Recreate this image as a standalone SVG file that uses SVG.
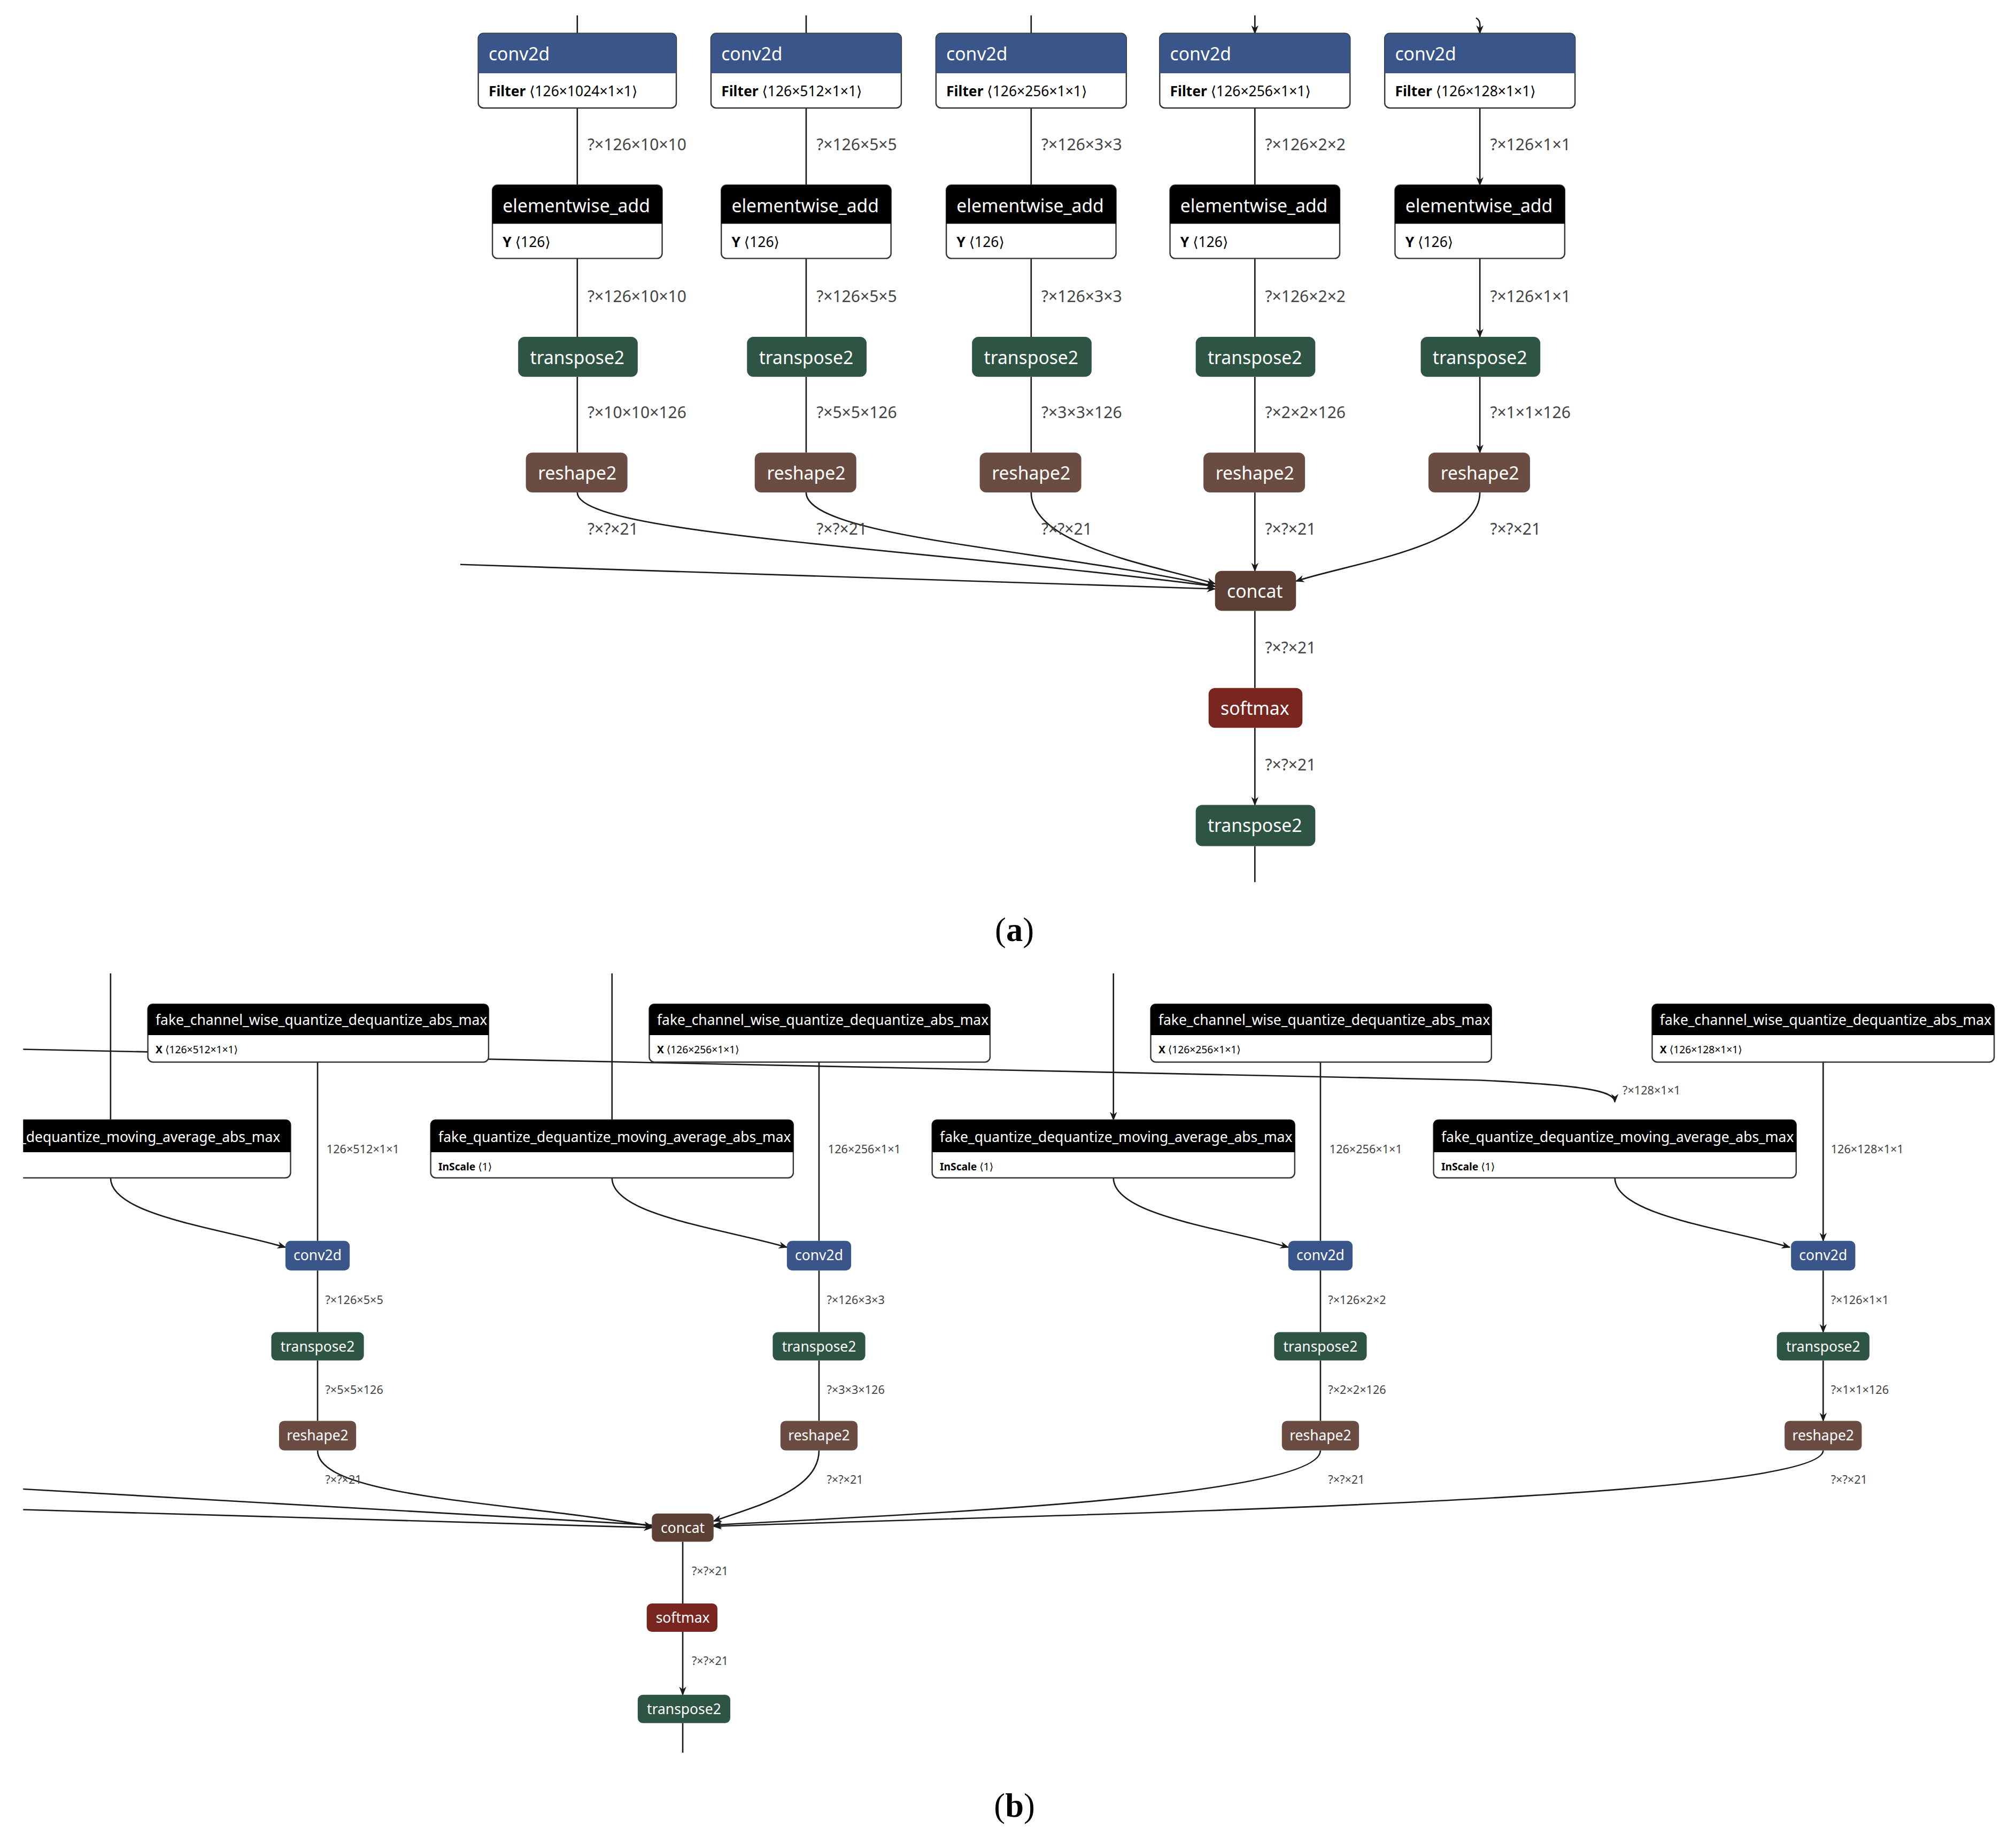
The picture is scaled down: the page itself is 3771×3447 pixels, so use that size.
<svg xmlns="http://www.w3.org/2000/svg" width="3771" height="3447" viewBox="0 0 3771 3447">
<style>
text{font-family:"Noto Sans","Open Sans","DejaVu Sans",sans-serif}
.e{fill:none;stroke:#1a1a1a;stroke-width:1.1}
.la{font-size:12.5px;fill:#444}
.lb{font-size:9px;fill:#444}
.t{font-size:14px;fill:#fff}
.tb{font-size:11px;fill:#fff}
.at{font-size:11px;fill:#000}
.atb{font-size:8px;fill:#000}
.bo{fill:#fff;stroke:#333;stroke-width:1}
.cv{fill:#3a5589}.bk{fill:#000}.tr{fill:#2e5443}.rs{fill:#6b4c42}.cc{fill:#5c4036}.sm{fill:#7a2620}
.cap{font-family:"Liberation Serif",serif;font-size:26px;fill:#000}
</style>
<defs><marker id="a" viewBox="0 0 10 10" refX="9" refY="5" markerWidth="7" markerHeight="7" markerUnits="userSpaceOnUse" orient="auto"><path d="M0,1 L10,5 L0,9 L3,5z" fill="#1a1a1a"/></marker></defs>
<rect width="3771" height="3447" fill="#fff"/>
<g transform="scale(2.405)">
<g id="connectors">
<path class="e" marker-end="url(#a)" d="M449,12V26M627,12V26M802,12V26M976,12V26"/>
<path class="e" marker-end="url(#a)" d="M1148,14C1152,16 1151,20 1151,26"/>
<path class="e" marker-end="url(#a)" d="M449,84V144M627,84V144M802,84V144M976,84V144M1151,84V144"/>
<path class="e" marker-end="url(#a)" d="M449,201V262M627,201V262M802,201V262M976,201V262M1151,201V262"/>
<path class="e" marker-end="url(#a)" d="M449,293V352M627,293V352M802,293V352M976,293V352M1151,293V352"/>
<path class="e" marker-end="url(#a)" d="M449,383C449,415 700,425 945,456"/>
<path class="e" marker-end="url(#a)" d="M627,383C627,418 820,428 945,456"/>
<path class="e" marker-end="url(#a)" d="M802,383C802,425 900,440 945,454"/>
<path class="e" marker-end="url(#a)" d="M976,383V444"/>
<path class="e" marker-end="url(#a)" d="M1151,383C1151,425 1050,438 1008,452"/>
<path class="e" marker-end="url(#a)" d="M358,439L945,458"/>
<path class="e" marker-end="url(#a)" d="M976,475V535M976,566V626"/>
<path class="e" d="M976,658V686"/>
<path class="e" d="M18,816L1150,840C1230,844 1256,848 1256,857" marker-end="url(#a)"/>
<path class="e" marker-end="url(#a)" d="M86,757V871M476,757V871M866,757V871"/>
<path class="e" marker-end="url(#a)" d="M247,826V965M637,826V965M1027,826V965M1418,826V965"/>
<path class="e" marker-end="url(#a)" d="M86,916C86,945 170,955 222,970"/>
<path class="e" marker-end="url(#a)" d="M476,916C476,945 560,955 612,970"/>
<path class="e" marker-end="url(#a)" d="M866,916C866,945 950,955 1002,970"/>
<path class="e" marker-end="url(#a)" d="M1256,916C1256,945 1340,955 1392,970"/>
<path class="e" marker-end="url(#a)" d="M247,988V1036M637,988V1036M1027,988V1036M1418,988V1036"/>
<path class="e" marker-end="url(#a)" d="M247,1058V1105M637,1058V1105M1027,1058V1105M1418,1058V1105"/>
<path class="e" marker-end="url(#a)" d="M247,1128C247,1165 400,1168 507,1187"/>
<path class="e" marker-end="url(#a)" d="M637,1128C637,1160 585,1172 555,1183"/>
<path class="e" marker-end="url(#a)" d="M1027,1128C1027,1165 700,1178 555,1186"/>
<path class="e" marker-end="url(#a)" d="M1418,1128C1418,1168 800,1178 555,1187"/>
<path class="e" marker-end="url(#a)" d="M18,1158L507,1186M18,1174L507,1188"/>
<path class="e" marker-end="url(#a)" d="M531,1199V1247M531,1269V1318"/>
<path class="e" d="M531,1340V1363"/>
</g>
<g id="labels-a" class="la">
<text x="457" y="117">?×126×10×10</text><text x="635" y="117">?×126×5×5</text><text x="810" y="117">?×126×3×3</text><text x="984" y="117">?×126×2×2</text><text x="1159" y="117">?×126×1×1</text>
<text x="457" y="235">?×126×10×10</text><text x="635" y="235">?×126×5×5</text><text x="810" y="235">?×126×3×3</text><text x="984" y="235">?×126×2×2</text><text x="1159" y="235">?×126×1×1</text>
<text x="457" y="325">?×10×10×126</text><text x="635" y="325">?×5×5×126</text><text x="810" y="325">?×3×3×126</text><text x="984" y="325">?×2×2×126</text><text x="1159" y="325">?×1×1×126</text>
<text x="457" y="416">?×?×21</text><text x="635" y="416">?×?×21</text><text x="810" y="416">?×?×21</text><text x="984" y="416">?×?×21</text><text x="1159" y="416">?×?×21</text>
<text x="984" y="508">?×?×21</text><text x="984" y="599">?×?×21</text>
</g>
<g id="a-conv"><rect class="bo" x="372" y="26" width="154" height="58" rx="4"/><path class="cv" d="M376,26H522A4,4 0 0 1 526,30V57H372V30A4,4 0 0 1 376,26z"/><text class="t" x="380" y="47">conv2d</text><text class="at" x="380" y="75"><tspan font-weight="bold">Filter</tspan> ⟨126×1024×1×1⟩</text></g>
<g id="a-conv2"><rect class="bo" x="553" y="26" width="148" height="58" rx="4"/><path class="cv" d="M557,26H697A4,4 0 0 1 701,30V57H553V30A4,4 0 0 1 557,26z"/><text class="t" x="561" y="47">conv2d</text><text class="at" x="561" y="75"><tspan font-weight="bold">Filter</tspan> ⟨126×512×1×1⟩</text></g>
<g id="a-conv3"><rect class="bo" x="728" y="26" width="148" height="58" rx="4"/><path class="cv" d="M732,26H872A4,4 0 0 1 876,30V57H728V30A4,4 0 0 1 732,26z"/><text class="t" x="736" y="47">conv2d</text><text class="at" x="736" y="75"><tspan font-weight="bold">Filter</tspan> ⟨126×256×1×1⟩</text></g>
<g id="a-conv4"><rect class="bo" x="902" y="26" width="148" height="58" rx="4"/><path class="cv" d="M906,26H1046A4,4 0 0 1 1050,30V57H902V30A4,4 0 0 1 906,26z"/><text class="t" x="910" y="47">conv2d</text><text class="at" x="910" y="75"><tspan font-weight="bold">Filter</tspan> ⟨126×256×1×1⟩</text></g>
<g id="a-conv5"><rect class="bo" x="1077" y="26" width="148" height="58" rx="4"/><path class="cv" d="M1081,26H1221A4,4 0 0 1 1225,30V57H1077V30A4,4 0 0 1 1081,26z"/><text class="t" x="1085" y="47">conv2d</text><text class="at" x="1085" y="75"><tspan font-weight="bold">Filter</tspan> ⟨126×128×1×1⟩</text></g>
<g id="a-add1"><rect class="bo" x="383" y="144" width="132" height="57" rx="4"/><path class="bk" d="M387,144H511A4,4 0 0 1 515,148V174H383V148A4,4 0 0 1 387,144z"/><text class="t" x="391" y="165">elementwise_add</text><text class="at" x="391" y="192"><tspan font-weight="bold">Y</tspan> ⟨126⟩</text></g>
<g id="a-add2"><rect class="bo" x="561" y="144" width="132" height="57" rx="4"/><path class="bk" d="M565,144H689A4,4 0 0 1 693,148V174H561V148A4,4 0 0 1 565,144z"/><text class="t" x="569" y="165">elementwise_add</text><text class="at" x="569" y="192"><tspan font-weight="bold">Y</tspan> ⟨126⟩</text></g>
<g id="a-add3"><rect class="bo" x="736" y="144" width="132" height="57" rx="4"/><path class="bk" d="M740,144H864A4,4 0 0 1 868,148V174H736V148A4,4 0 0 1 740,144z"/><text class="t" x="744" y="165">elementwise_add</text><text class="at" x="744" y="192"><tspan font-weight="bold">Y</tspan> ⟨126⟩</text></g>
<g id="a-add4"><rect class="bo" x="910" y="144" width="132" height="57" rx="4"/><path class="bk" d="M914,144H1038A4,4 0 0 1 1042,148V174H910V148A4,4 0 0 1 914,144z"/><text class="t" x="918" y="165">elementwise_add</text><text class="at" x="918" y="192"><tspan font-weight="bold">Y</tspan> ⟨126⟩</text></g>
<g id="a-add5"><rect class="bo" x="1085" y="144" width="132" height="57" rx="4"/><path class="bk" d="M1089,144H1213A4,4 0 0 1 1217,148V174H1085V148A4,4 0 0 1 1089,144z"/><text class="t" x="1093" y="165">elementwise_add</text><text class="at" x="1093" y="192"><tspan font-weight="bold">Y</tspan> ⟨126⟩</text></g>
<g id="a-tr" text-anchor="middle">
<rect class="tr" x="403" y="262" width="93" height="31" rx="5"/><text class="t" x="449" y="283">transpose2</text>
<rect class="tr" x="581" y="262" width="93" height="31" rx="5"/><text class="t" x="627" y="283">transpose2</text>
<rect class="tr" x="756" y="262" width="93" height="31" rx="5"/><text class="t" x="802" y="283">transpose2</text>
<rect class="tr" x="930" y="262" width="93" height="31" rx="5"/><text class="t" x="976" y="283">transpose2</text>
<rect class="tr" x="1105" y="262" width="93" height="31" rx="5"/><text class="t" x="1151" y="283">transpose2</text>
</g>
<g id="a-rs" text-anchor="middle">
<rect class="rs" x="409" y="352" width="79" height="31" rx="5"/><text class="t" x="449" y="373">reshape2</text>
<rect class="rs" x="587" y="352" width="79" height="31" rx="5"/><text class="t" x="627" y="373">reshape2</text>
<rect class="rs" x="762" y="352" width="79" height="31" rx="5"/><text class="t" x="802" y="373">reshape2</text>
<rect class="rs" x="936" y="352" width="79" height="31" rx="5"/><text class="t" x="976" y="373">reshape2</text>
<rect class="rs" x="1111" y="352" width="79" height="31" rx="5"/><text class="t" x="1151" y="373">reshape2</text>
</g>
<g id="a-concat" text-anchor="middle"><rect class="cc" x="945" y="444" width="63" height="31" rx="5"/><text class="t" x="976" y="465">concat</text></g>
<g id="a-softmax" text-anchor="middle"><rect class="sm" x="940" y="535" width="73" height="31" rx="5"/><text class="t" x="976" y="556">softmax</text></g>
<g id="a-tr-out" text-anchor="middle"><rect class="tr" x="930" y="626" width="93" height="32" rx="5"/><text class="t" x="976" y="647">transpose2</text></g>
<text class="cap" x="789" y="732" text-anchor="middle">(<tspan font-weight="bold">a</tspan>)</text>

<g id="labels-b" class="lb">
<text x="254" y="897">126×512×1×1</text><text x="644" y="897">126×256×1×1</text><text x="1034" y="897">126×256×1×1</text><text x="1424" y="897">126×128×1×1</text>
<text x="1262" y="851">?×128×1×1</text>
<text x="253" y="1014">?×126×5×5</text><text x="643" y="1014">?×126×3×3</text><text x="1033" y="1014">?×126×2×2</text><text x="1424" y="1014">?×126×1×1</text>
<text x="253" y="1084">?×5×5×126</text><text x="643" y="1084">?×3×3×126</text><text x="1033" y="1084">?×2×2×126</text><text x="1424" y="1084">?×1×1×126</text>
<text x="253" y="1154">?×?×21</text><text x="643" y="1154">?×?×21</text><text x="1033" y="1154">?×?×21</text><text x="1424" y="1154">?×?×21</text>
<text x="538" y="1225">?×?×21</text><text x="538" y="1295">?×?×21</text>
</g>
<g id="b-fc1"><rect class="bo" x="115" y="781" width="265" height="45" rx="4"/><path class="bk" d="M118,781H377A3,3 0 0 1 380,784V805H115V784A3,3 0 0 1 118,781z"/><text class="tb" x="121" y="797">fake_channel_wise_quantize_dequantize_abs_max</text><text class="atb" x="121" y="819"><tspan font-weight="bold">X</tspan> ⟨126×512×1×1⟩</text></g>
<g id="b-fc2"><rect class="bo" x="505" y="781" width="265" height="45" rx="4"/><path class="bk" d="M508,781H767A3,3 0 0 1 770,784V805H505V784A3,3 0 0 1 508,781z"/><text class="tb" x="511" y="797">fake_channel_wise_quantize_dequantize_abs_max</text><text class="atb" x="511" y="819"><tspan font-weight="bold">X</tspan> ⟨126×256×1×1⟩</text></g>
<g id="b-fc3"><rect class="bo" x="895" y="781" width="265" height="45" rx="4"/><path class="bk" d="M898,781H1157A3,3 0 0 1 1160,784V805H895V784A3,3 0 0 1 898,781z"/><text class="tb" x="901" y="797">fake_channel_wise_quantize_dequantize_abs_max</text><text class="atb" x="901" y="819"><tspan font-weight="bold">X</tspan> ⟨126×256×1×1⟩</text></g>
<g id="b-fc4"><rect class="bo" x="1285" y="781" width="266" height="45" rx="4"/><path class="bk" d="M1288,781H1548A3,3 0 0 1 1551,784V805H1285V784A3,3 0 0 1 1288,781z"/><text class="tb" x="1291" y="797">fake_channel_wise_quantize_dequantize_abs_max</text><text class="atb" x="1291" y="819"><tspan font-weight="bold">X</tspan> ⟨126×128×1×1⟩</text></g>
<g id="b-fq0"><rect class="bo" x="10" y="871" width="216" height="45" rx="4"/><path class="bk" d="M13,871H223A3,3 0 0 1 226,874V896H10V874A3,3 0 0 1 13,871z"/><text class="tb" x="226" y="888" text-anchor="end" dx="-8">_dequantize_moving_average_abs_max</text></g>
<g id="b-fq1"><rect class="bo" x="335" y="871" width="282" height="45" rx="4"/><path class="bk" d="M338,871H614A3,3 0 0 1 617,874V896H335V874A3,3 0 0 1 338,871z"/><text class="tb" x="341" y="888">fake_quantize_dequantize_moving_average_abs_max</text><text class="atb" x="341" y="910"><tspan font-weight="bold">InScale</tspan> ⟨1⟩</text></g>
<g id="b-fq2"><rect class="bo" x="725" y="871" width="282" height="45" rx="4"/><path class="bk" d="M728,871H1004A3,3 0 0 1 1007,874V896H725V874A3,3 0 0 1 728,871z"/><text class="tb" x="731" y="888">fake_quantize_dequantize_moving_average_abs_max</text><text class="atb" x="731" y="910"><tspan font-weight="bold">InScale</tspan> ⟨1⟩</text></g>
<g id="b-fq3"><rect class="bo" x="1115" y="871" width="282" height="45" rx="4"/><path class="bk" d="M1118,871H1394A3,3 0 0 1 1397,874V896H1115V874A3,3 0 0 1 1118,871z"/><text class="tb" x="1121" y="888">fake_quantize_dequantize_moving_average_abs_max</text><text class="atb" x="1121" y="910"><tspan font-weight="bold">InScale</tspan> ⟨1⟩</text></g>
<rect x="0" y="860" width="18" height="70" fill="#fff"/>
<g id="b-conv" text-anchor="middle">
<rect class="cv" x="222" y="965" width="50" height="23" rx="4"/><text class="tb" x="247" y="980">conv2d</text>
<rect class="cv" x="612" y="965" width="50" height="23" rx="4"/><text class="tb" x="637" y="980">conv2d</text>
<rect class="cv" x="1002" y="965" width="50" height="23" rx="4"/><text class="tb" x="1027" y="980">conv2d</text>
<rect class="cv" x="1393" y="965" width="50" height="23" rx="4"/><text class="tb" x="1418" y="980">conv2d</text>
</g>
<g id="b-tr" text-anchor="middle">
<rect class="tr" x="211" y="1036" width="72" height="22" rx="4"/><text class="tb" x="247" y="1051">transpose2</text>
<rect class="tr" x="601" y="1036" width="72" height="22" rx="4"/><text class="tb" x="637" y="1051">transpose2</text>
<rect class="tr" x="991" y="1036" width="72" height="22" rx="4"/><text class="tb" x="1027" y="1051">transpose2</text>
<rect class="tr" x="1382" y="1036" width="72" height="22" rx="4"/><text class="tb" x="1418" y="1051">transpose2</text>
</g>
<g id="b-rs" text-anchor="middle">
<rect class="rs" x="217" y="1105" width="60" height="23" rx="4"/><text class="tb" x="247" y="1120">reshape2</text>
<rect class="rs" x="607" y="1105" width="60" height="23" rx="4"/><text class="tb" x="637" y="1120">reshape2</text>
<rect class="rs" x="997" y="1105" width="60" height="23" rx="4"/><text class="tb" x="1027" y="1120">reshape2</text>
<rect class="rs" x="1388" y="1105" width="60" height="23" rx="4"/><text class="tb" x="1418" y="1120">reshape2</text>
</g>
<g id="b-concat" text-anchor="middle"><rect class="cc" x="507" y="1177" width="48" height="22" rx="4"/><text class="tb" x="531" y="1192">concat</text></g>
<g id="b-softmax" text-anchor="middle"><rect class="sm" x="503" y="1247" width="55" height="22" rx="4"/><text class="tb" x="531" y="1262">softmax</text></g>
<g id="b-tr-out" text-anchor="middle"><rect class="tr" x="496" y="1318" width="72" height="22" rx="4"/><text class="tb" x="532" y="1333">transpose2</text></g>
<text class="cap" x="789" y="1413" text-anchor="middle">(<tspan font-weight="bold">b</tspan>)</text>
</g>
</svg>
